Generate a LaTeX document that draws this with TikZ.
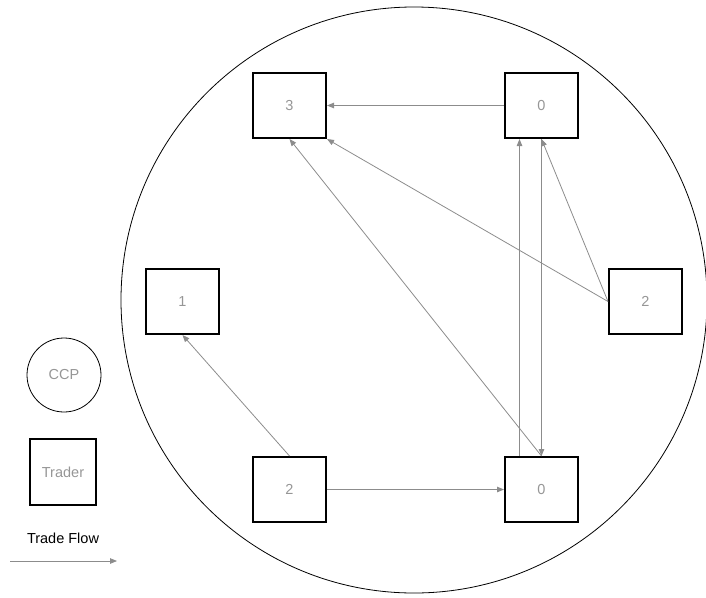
\documentclass[tikz,border=0pt]{standalone}
\usepackage{fontspec}
\setmainfont{Liberation Sans}
\usetikzlibrary{arrows.meta}
\definecolor{flowgray}{RGB}{140,140,140}
\definecolor{labelgray}{RGB}{150,150,150}

\begin{document}
\begin{tikzpicture}[x=1pt, y=-1pt, >={Triangle[length=7pt, width=5.5pt]},
	font=\fontsize{14.5}{17}\selectfont,
	trader/.style={draw=black, line width=2pt, minimum width=73pt, minimum height=65pt, inner sep=0pt, text=labelgray},
	flow/.style={->, flowgray, line width=0.8pt}]
	
	\useasboundingbox (0,0) rectangle (706,597);
	
	% --- 1. The CCP (big circle round all traders) ---
	\node[draw, circle, line width=0.8pt, minimum size=586pt, inner sep=0pt] (market) at (414,300) {};
	
	% --- 2. Traders and their positions ---
	\foreach \name/\x/\y/\val in {t3/289.5/105.5/3, t0/541.5/105.5/0, l1/182.5/301.5/1, r2/645.5/301.5/2, b2/289.5/489.5/2, b0/541.5/489.5/0} {
		\node[trader] (\name) at (\x,\y) {\val};
	}
	
	% --- 3. Trade flows between traders ---
	\foreach \from/\to in {t0.west/t3.east, r2.west/t3.south east, r2.west/t0.south, b0.north/t3.south, t0.south/b0.north, b2.east/b0.west, b2.north/l1.south} {
		\draw[flow] (\from) -- (\to);
	}
	% second vertical flow, shifted left
	\draw[flow] ([xshift=-22pt]b0.north) -- ([xshift=-22pt]t0.south);
	
	% --- 4. Legend ---
	\node[draw, circle, line width=0.8pt, minimum size=74pt, inner sep=0pt, text=labelgray] (ccp) at (64,375) {CCP};
	\node[trader, minimum width=66pt, minimum height=66pt] (legtrader) at (63,472) {Trader};
	\node (flowlabel) at (63,538) {Trade Flow};
	\coordinate (flowstart) at (10,561);
	\coordinate (flowend) at (117,561);
	\draw[flow] (flowstart) -- (flowend);
	
\end{tikzpicture}
\end{document}
